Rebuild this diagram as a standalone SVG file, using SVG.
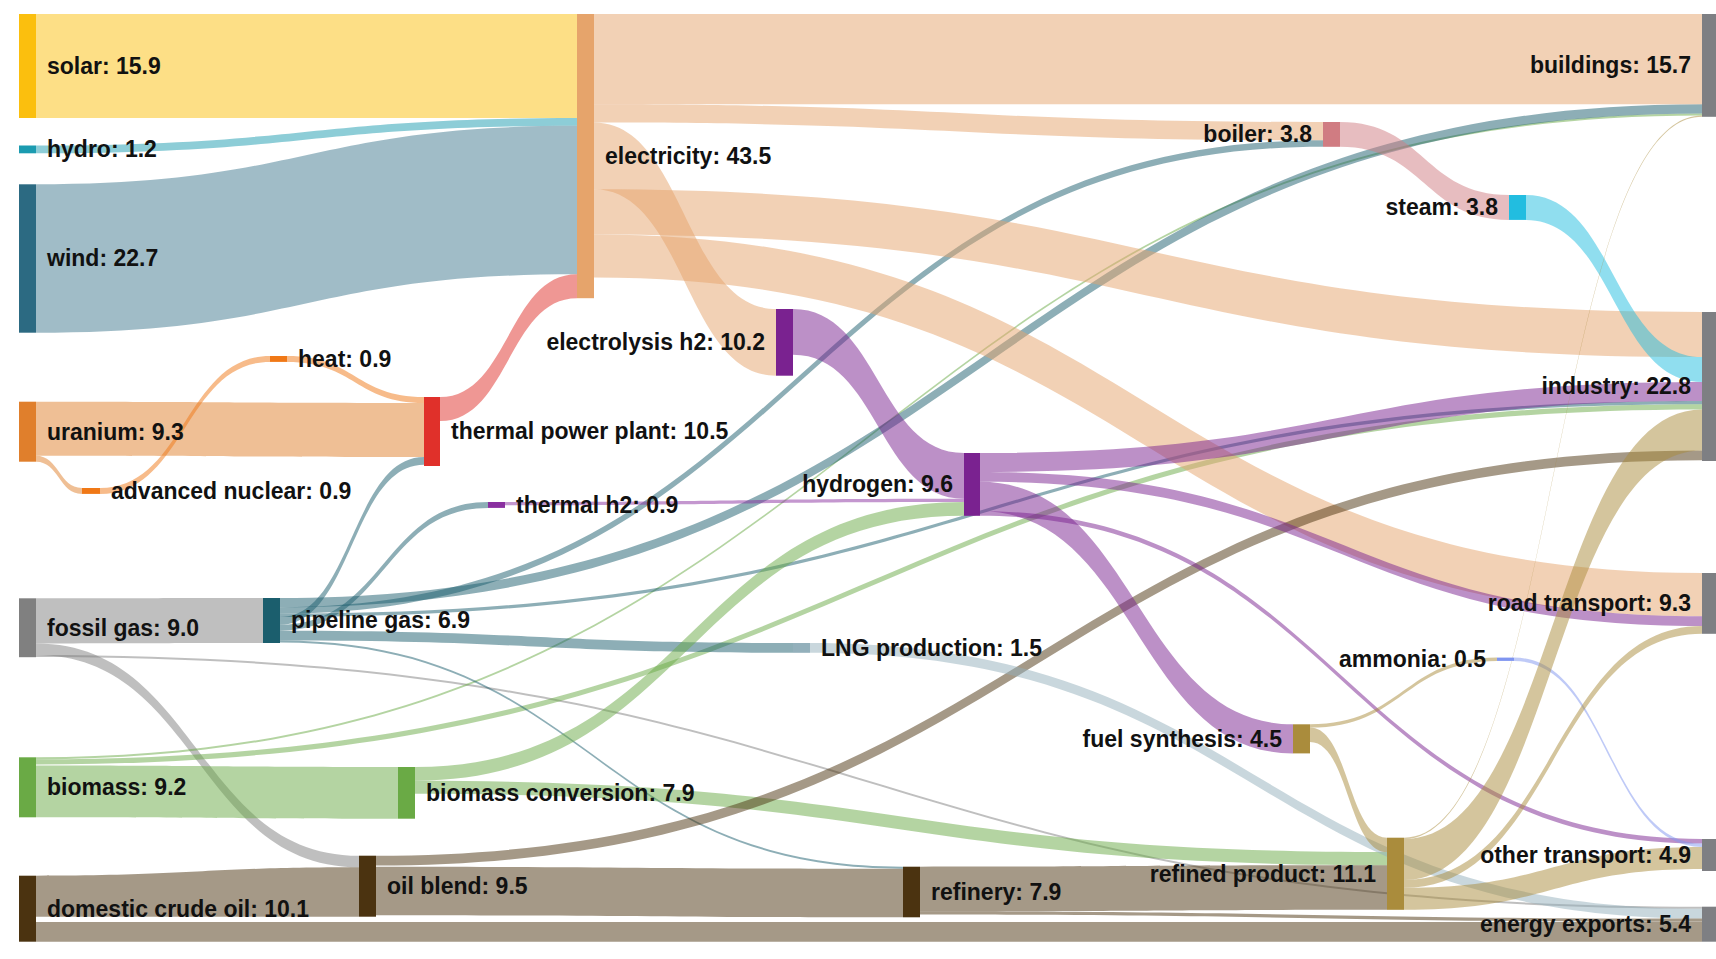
<svg xmlns="http://www.w3.org/2000/svg" width="1716" height="959" viewBox="0 0 1716 959">
<style>
.lk{fill-opacity:.5}
.lk.c-win{fill-opacity:.45}
.lbl{font-family:"Liberation Sans",Arial,sans-serif;font-weight:bold;font-size:23px;fill:#111}
.end{text-anchor:end}
.c-sol{fill:#fbbf0e}.c-hyd{fill:#1b9bb0}.c-win{fill:#2c6a82}.c-ura{fill:#e07f2c}
.c-gas{fill:#808080}.c-bio{fill:#6aaa45}.c-oil{fill:#4b3310}.c-nuc{fill:#f07816}
.c-tpp{fill:#e0302a}.c-pg{fill:#1b5e6d}.c-ele{fill:#e6a46b}.c-h2{fill:#7a2290}
.c-th2{fill:#8a2fa0}.c-lng{fill:#93b0bb}.c-boi{fill:#d07c82}.c-stm{fill:#22bde0}
.c-fs{fill:#aa8c3c}.c-amm{fill:#7f95f0}.c-snk{fill:#7e7f83}
</style>
<rect width="1716" height="959" fill="#ffffff"/>
<g id="links">
<path class="lk c-sol" d="M36 14L577 14L577 118L36 118Z"/>
<path class="lk c-hyd" d="M36 145.5C306.5 145.5 306.5 118 577 118L577 125.8C306.5 125.8 306.5 153.3 36 153.3Z"/>
<path class="lk c-win" d="M36 184.3C306.5 184.3 306.5 125.8 577 125.8L577 274.2C306.5 274.2 306.5 332.7 36 332.7Z"/>
<path class="lk c-tpp" d="M440 397C508.5 397 508.5 274.2 577 274.2L577 298.2C508.5 298.2 508.5 421 440 421Z"/>
<path class="lk c-ura" d="M36 401.7C230 401.7 230 402.9 424 402.9L424 457C230 457 230 455.8 36 455.8Z"/>
<path class="lk c-ura" d="M36 455.8C59 455.8 59 488 82 488L82 493.9C59 493.9 59 461.7 36 461.7Z"/>
<path class="lk c-nuc" d="M100 488C185 488 185 356 270 356L270 361.9C185 361.9 185 493.9 100 493.9Z"/>
<path class="lk c-nuc" d="M287 356C355.5 356 355.5 397 424 397L424 402.9C355.5 402.9 355.5 361.9 287 361.9Z"/>
<path class="lk c-gas" d="M36 598.3C149.5 598.3 149.5 598 263 598L263 643C149.5 643 149.5 643.4 36 643.4Z"/>
<path class="lk c-gas" d="M36 643.4C197.5 643.4 197.5 855.7 359 855.7L359 867.3C197.5 867.3 197.5 655 36 655Z"/>
<path class="lk c-gas" d="M36 655C869 655 869 906.7 1702 906.7L1702 908.7C869 908.7 869 657 36 657Z"/>
<path class="lk c-oil" d="M36 875.7C197.5 875.7 197.5 867.3 359 867.3L359 916.7C197.5 916.7 197.5 916.7 36 916.7Z"/>
<path class="lk c-oil" d="M36 922.1L1702 922.1L1702 941.7L36 941.7Z"/>
<path class="lk c-bio" d="M36 757.3C869 757.3 869 113.5 1702 113.5L1702 115.5C869 115.5 869 759.3 36 759.3Z"/>
<path class="lk c-bio" d="M36 759.3C869 759.3 869 404.3 1702 404.3L1702 409.5C869 409.5 869 764.5 36 764.5Z"/>
<path class="lk c-bio" d="M36 765.5C217 765.5 217 767 398 767L398 818.7C217 818.7 217 817.3 36 817.3Z"/>
<path class="lk c-pg" d="M280 598C991 598 991 104.3 1702 104.3L1702 113.5C991 113.5 991 607.2 280 607.2Z"/>
<path class="lk c-pg" d="M280 607.2C801.5 607.2 801.5 140.3 1323 140.3L1323 146.8C801.5 146.8 801.5 613.7 280 613.7Z"/>
<path class="lk c-pg" d="M280 613.7C991 613.7 991 401 1702 401L1702 404.3C991 404.3 991 617 280 617Z"/>
<path class="lk c-pg" d="M280 617C352 617 352 457 424 457L424 464.8C352 464.8 352 624.8 280 624.8Z"/>
<path class="lk c-pg" d="M280 624.8C384 624.8 384 502 488 502L488 507.9C384 507.9 384 630.7 280 630.7Z"/>
<path class="lk c-pg" d="M280 630.7C536.5 630.7 536.5 643 793 643L793 652.8C536.5 652.8 536.5 640.5 280 640.5Z"/>
<path class="lk c-pg" d="M280 640.5C591.5 640.5 591.5 866.7 903 866.7L903 868.7C591.5 868.7 591.5 642.5 280 642.5Z"/>
<path class="lk c-ele" d="M594 14L1702 14L1702 104.3L594 104.3Z"/>
<path class="lk c-ele" d="M594 104.3C958.5 104.3 958.5 122 1323 122L1323 140.3C958.5 140.3 958.5 122.6 594 122.6Z"/>
<path class="lk c-ele" d="M594 122.6C685 122.6 685 309 776 309L776 375.7C685 375.7 685 189.3 594 189.3Z"/>
<path class="lk c-ele" d="M594 189.3C1148 189.3 1148 312 1702 312L1702 357.1C1148 357.1 1148 234.4 594 234.4Z"/>
<path class="lk c-ele" d="M594 234.4C1148 234.4 1148 573 1702 573L1702 616.2C1148 616.2 1148 277.6 594 277.6Z"/>
<path class="lk c-th2" d="M505 502C734.5 502 734.5 498.8 964 498.8L964 502.1C734.5 502.1 734.5 505.3 505 505.3Z"/>
<path class="lk c-h2" d="M793 309C878.5 309 878.5 453 964 453L964 498.8C878.5 498.8 878.5 354.8 793 354.8Z"/>
<path class="lk c-bio" d="M415 767C689.5 767 689.5 502.1 964 502.1L964 515.8C689.5 515.8 689.5 780.7 415 780.7Z"/>
<path class="lk c-bio" d="M415 780.7C901 780.7 901 852.1 1387 852.1L1387 865.2C901 865.2 901 793.8 415 793.8Z"/>
<path class="lk c-oil" d="M376 855.7C1039 855.7 1039 450.5 1702 450.5L1702 460.3C1039 460.3 1039 865.5 376 865.5Z"/>
<path class="lk c-oil" d="M376 866.7C639.5 866.7 639.5 868.7 903 868.7L903 917.3C639.5 917.3 639.5 915.3 376 915.3Z"/>
<path class="lk c-lng" d="M810 643C1256 643 1256 908.7 1702 908.7L1702 918.5C1256 918.5 1256 652.8 810 652.8Z"/>
<path class="lk c-oil" d="M920 866.7C1153.5 866.7 1153.5 865.2 1387 865.2L1387 909.8C1153.5 909.8 1153.5 911.3 920 911.3Z"/>
<path class="lk c-oil" d="M920 911.3C1311 911.3 1311 918.5 1702 918.5L1702 921.8C1311 921.8 1311 914.6 920 914.6Z"/>
<path class="lk c-h2" d="M980 453C1341 453 1341 382 1702 382L1702 401C1341 401 1341 472 980 472Z"/>
<path class="lk c-h2" d="M980 472C1341 472 1341 616.2 1702 616.2L1702 626C1341 626 1341 481.8 980 481.8Z"/>
<path class="lk c-h2" d="M980 481.8C1136.5 481.8 1136.5 724.3 1293 724.3L1293 753.4C1136.5 753.4 1136.5 511.2 980 511.2Z"/>
<path class="lk c-h2" d="M980 511.2C1341 511.2 1341 839 1702 839L1702 843.6C1341 843.6 1341 515.8 980 515.8Z"/>
<path class="lk c-fs" d="M1310 724.3C1403.5 724.3 1403.5 657.6 1497 657.6L1497 660.9C1403.5 660.9 1403.5 727.6 1310 727.6Z"/>
<path class="lk c-fs" d="M1310 727.6C1348.5 727.6 1348.5 837.7 1387 837.7L1387 852.1C1348.5 852.1 1348.5 742 1310 742Z"/>
<path class="lk c-boi" d="M1340 122C1424.5 122 1424.5 195 1509 195L1509 219.9C1424.5 219.9 1424.5 146.8 1340 146.8Z"/>
<path class="lk c-stm" d="M1526 195C1614 195 1614 357.1 1702 357.1L1702 382C1614 382 1614 219.9 1526 219.9Z"/>
<path class="lk c-amm" d="M1514 657.6C1608 657.6 1608 843.6 1702 843.6L1702 846.9C1608 846.9 1608 660.9 1514 660.9Z"/>
<path class="lk c-fs" d="M1404 837.7C1553 837.7 1553 115.5 1702 115.5L1702 116.8C1553 116.8 1553 839 1404 839Z"/>
<path class="lk c-fs" d="M1404 839C1553 839 1553 409.5 1702 409.5L1702 450.5C1553 450.5 1553 880 1404 880Z"/>
<path class="lk c-fs" d="M1404 880C1553 880 1553 626 1702 626L1702 633.8C1553 633.8 1553 887.8 1404 887.8Z"/>
<path class="lk c-fs" d="M1404 887.8C1553 887.8 1553 846.9 1702 846.9L1702 868.9C1553 868.9 1553 909.8 1404 909.8Z"/>
</g>
<g id="node-solar"><rect class="c-sol" x="19" y="14" width="17" height="104"/><text class="lbl" x="47" y="74">solar: 15.9</text></g>
<g id="node-hydro"><rect class="c-hyd" x="19" y="145.5" width="17" height="7.8"/><text class="lbl" x="47" y="157.3">hydro: 1.2</text></g>
<g id="node-wind"><rect class="c-win" x="19" y="184.3" width="17" height="148.4"/><text class="lbl" x="47" y="266.4">wind: 22.7</text></g>
<g id="node-uranium"><rect class="c-ura" x="19" y="401.7" width="17" height="60"/><text class="lbl" x="47" y="439.6">uranium: 9.3</text></g>
<g id="node-fossil-gas"><rect class="c-gas" x="19" y="598.3" width="17" height="58.9"/><text class="lbl" x="47" y="635.6">fossil gas: 9.0</text></g>
<g id="node-biomass"><rect class="c-bio" x="19" y="757.3" width="17" height="60"/><text class="lbl" x="47" y="795.2">biomass: 9.2</text></g>
<g id="node-domestic-crude-oil"><rect class="c-oil" x="19" y="875.7" width="17" height="66"/><text class="lbl" x="47" y="916.6">domestic crude oil: 10.1</text></g>
<g id="node-advanced-nuclear"><rect class="c-nuc" x="82" y="488" width="18" height="5.9"/><text class="lbl" x="111" y="498.9">advanced nuclear: 0.9</text></g>
<g id="node-heat"><rect class="c-nuc" x="270" y="356" width="17" height="5.9"/><text class="lbl" x="298" y="366.9">heat: 0.9</text></g>
<g id="node-thermal-power-plant"><rect class="c-tpp" x="424" y="397" width="16" height="69"/><text class="lbl" x="451" y="439.4">thermal power plant: 10.5</text></g>
<g id="node-pipeline-gas"><rect class="c-pg" x="263" y="598" width="17" height="45"/><text class="lbl" x="291" y="628.4">pipeline gas: 6.9</text></g>
<g id="node-biomass-conversion"><rect class="c-bio" x="398" y="767" width="17" height="51.7"/><text class="lbl" x="426" y="800.8">biomass conversion: 7.9</text></g>
<g id="node-oil-blend"><rect class="c-oil" x="359" y="855.7" width="17" height="61"/><text class="lbl" x="387" y="894.1">oil blend: 9.5</text></g>
<g id="node-electricity"><rect class="c-ele" x="577" y="14" width="17" height="284.2"/><text class="lbl" x="605" y="164">electricity: 43.5</text></g>
<g id="node-thermal-h2"><rect class="c-th2" x="488" y="502" width="17" height="5.9"/><text class="lbl" x="516" y="512.9">thermal h2: 0.9</text></g>
<g id="node-electrolysis-h2"><rect class="c-h2" x="776" y="309" width="17" height="66.7"/><text class="lbl end" x="765" y="350.3">electrolysis h2: 10.2</text></g>
<g id="node-lng-production"><rect class="c-lng" x="793" y="643" width="17" height="9.8"/><text class="lbl" x="821" y="655.8">LNG production: 1.5</text></g>
<g id="node-refinery"><rect class="c-oil" x="903" y="866.7" width="17" height="50.6"/><text class="lbl" x="931" y="899.9">refinery: 7.9</text></g>
<g id="node-hydrogen"><rect class="c-h2" x="964" y="453" width="16" height="62.8"/><text class="lbl end" x="953" y="492.3">hydrogen: 9.6</text></g>
<g id="node-fuel-synthesis"><rect class="c-fs" x="1293" y="724.3" width="17" height="29.1"/><text class="lbl end" x="1282" y="746.8">fuel synthesis: 4.5</text></g>
<g id="node-boiler"><rect class="c-boi" x="1323" y="122" width="17" height="24.8"/><text class="lbl end" x="1312" y="142.3">boiler: 3.8</text></g>
<g id="node-refined-product"><rect class="c-fs" x="1387" y="837.7" width="17" height="72.1"/><text class="lbl end" x="1376" y="881.7">refined product: 11.1</text></g>
<g id="node-ammonia"><rect class="c-amm" x="1497" y="657.6" width="17" height="3.3"/><text class="lbl end" x="1486" y="667.2">ammonia: 0.5</text></g>
<g id="node-steam"><rect class="c-stm" x="1509" y="195" width="17" height="24.9"/><text class="lbl end" x="1498" y="215.4">steam: 3.8</text></g>
<g id="node-buildings"><rect class="c-snk" x="1702" y="14" width="17" height="102.8"/><text class="lbl end" x="1691" y="73.3">buildings: 15.7</text></g>
<g id="node-industry"><rect class="c-snk" x="1702" y="312" width="17" height="149"/><text class="lbl end" x="1691" y="394.4">industry: 22.8</text></g>
<g id="node-road-transport"><rect class="c-snk" x="1702" y="573" width="17" height="60.8"/><text class="lbl end" x="1691" y="611.3">road transport: 9.3</text></g>
<g id="node-other-transport"><rect class="c-snk" x="1702" y="839" width="17" height="32"/><text class="lbl end" x="1691" y="862.9">other transport: 4.9</text></g>
<g id="node-energy-exports"><rect class="c-snk" x="1702" y="906.7" width="17" height="35"/><text class="lbl end" x="1691" y="932.1">energy exports: 5.4</text></g>
</svg>
